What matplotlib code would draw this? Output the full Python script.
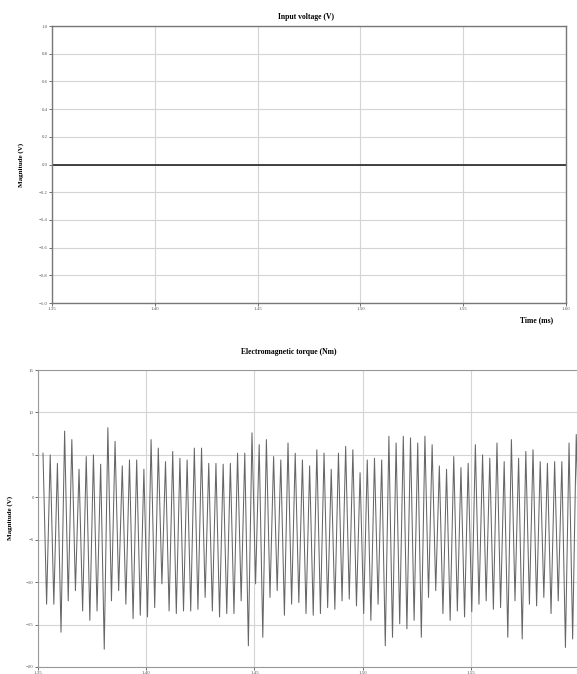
import matplotlib
matplotlib.use("Agg")
import matplotlib.pyplot as plt
import numpy as np

plt.rcParams["font.family"] = ["Liberation Serif", "DejaVu Serif"]

# top panel: input voltage (flat at zero)
volt_time = [1.35, 1.6]
volt_vals = [0.0, 0.0]
volt_yticks = [-1, -0.8, -0.6, -0.4, -0.2, 0, 0.2, 0.4, 0.6, 0.8, 1]
xticks = [1.35, 1.4, 1.45, 1.5, 1.55, 1.6]
xtick_labels = ["1.35", "1.40", "1.45", "1.50", "1.55", "1.60"]

# bottom panel: electromagnetic torque, one peak and one trough per ripple
t_start = 1.3523
period = 0.00333
torque_peaks = [5.2, 5.0, 4.0, 7.8, 6.8, 3.3, 4.8, 5.0, 3.9, 8.2, 6.6, 3.7, 4.4, 4.4, 3.3,
                6.8, 5.8, 4.2, 5.4, 4.6, 4.4, 5.8, 5.8, 4.0, 4.0, 3.9, 4.0, 5.2, 5.2, 7.6,
                6.2, 6.8, 4.8, 4.4, 6.4,
                5.2, 4.4, 3.7, 5.6, 5.2, 3.3, 5.2, 6.0, 5.6, 2.9, 4.4, 4.6, 4.4, 7.2, 6.4,
                7.2, 7.0, 6.4, 7.2, 6.2, 3.7, 3.3, 4.8, 3.5, 4.0, 6.2, 5.0, 4.6, 6.4, 4.2,
                6.8, 4.6, 5.4, 5.6, 4.2, 4.0, 4.2, 4.2, 6.4, 7.4]
torque_troughs = [-12.6, -12.6, -15.9, -12.2, -11.0, -13.4, -14.5, -13.4, -17.9, -12.2,
                  -11.0, -12.6, -14.3, -13.9, -14.1, -13.0, -10.2, -13.4, -13.7, -13.4,
                  -13.4, -13.2, -11.8, -13.4, -14.1, -13.7, -13.7, -12.2, -17.5, -10.2,
                  -16.5, -11.8, -11.0, -13.9, -12.6,
                  -12.4, -13.7, -13.9, -13.7, -13.0, -13.2, -12.2, -12.0, -12.8, -13.7,
                  -14.5, -12.6, -17.5, -16.5, -14.9, -15.5, -14.5, -16.5, -11.8, -11.0,
                  -13.7, -14.5, -13.4, -14.1, -13.5, -12.6, -12.2, -13.2, -13.0, -16.5,
                  -12.2, -16.7, -12.6, -12.8, -11.8, -13.7, -12.2, -17.7, -16.7, -10.2]
torque_yticks = [-20, -15, -10, -5, 0, 5, 10, 15]

n = len(torque_peaks)
peak_t = t_start + period * np.arange(n)
trough_t = peak_t + period / 2
t_all = np.empty(2 * n)
v_all = np.empty(2 * n)
t_all[0::2] = peak_t
t_all[1::2] = trough_t
v_all[0::2] = torque_peaks
v_all[1::2] = torque_troughs

fig = plt.figure(figsize=(5.77, 6.74), dpi=100)
grid_kw = dict(color="#d4d4d4", linewidth=0.8)

# ---- top axes ----
ax1 = fig.add_axes([0.090, 0.5504, 0.891, 0.411])
ax1.plot(volt_time, volt_vals, color="#333333", linewidth=1.3)
ax1.set_xlim(1.35, 1.6)
ax1.set_ylim(-1, 1)
ax1.set_xticks(xticks)
ax1.set_xticklabels(xtick_labels)
ax1.set_yticks(volt_yticks)
ax1.grid(True, **grid_kw)
ax1.tick_params(labelsize=3.5, length=2, width=0.6, pad=1, colors="#555555")
for s in ax1.spines.values():
    s.set_color("#777777")
    s.set_linewidth(1.0)
fig.text(0.53, 0.975, "Input voltage (V)", ha="center", va="center",
         fontsize=5.5, fontweight="bold")
fig.text(0.037, 0.755, "Magnitude (V)", ha="center", va="center",
         rotation=90, fontsize=5, fontweight="bold")
fig.text(0.93, 0.525, "Time (ms)", ha="center", va="center",
         fontsize=5.5, fontweight="bold")

# ---- bottom axes ----
ax2 = fig.add_axes([0.0659, 0.0104, 0.9376, 0.4406])
ax2.plot(t_all, v_all, color="#666666", linewidth=0.75)
ax2.set_xlim(1.35, 1.6)
ax2.set_ylim(-20, 15)
ax2.set_xticks(xticks)
ax2.set_xticklabels(xtick_labels[:-1] + [""])
ax2.set_yticks(torque_yticks)
ax2.grid(True, **grid_kw)
ax2.tick_params(labelsize=3.5, length=2, width=0.6, pad=1, colors="#555555")
for s in ax2.spines.values():
    s.set_color("#999999")
    s.set_linewidth(0.8)
fig.text(0.50, 0.478, "Electromagnetic torque (Nm)", ha="center", va="center",
         fontsize=5.5, fontweight="bold")
fig.text(0.018, 0.232, "Magnitude (V)", ha="center", va="center",
         rotation=90, fontsize=5, fontweight="bold")

fig.savefig("out.png", dpi=100)
